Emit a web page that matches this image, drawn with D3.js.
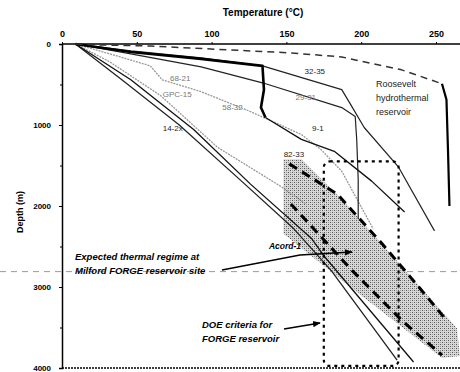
<!DOCTYPE html>
<html><head><meta charset="utf-8">
<script src="https://cdn.jsdelivr.net/npm/d3@7"></script>
<style>
html,body{margin:0;padding:0;background:#fff;}
svg{display:block;}
text{font-family:"Liberation Sans","DejaVu Sans",sans-serif;}
</style></head><body>
<svg id="c" width="460" height="372"></svg>
<script>
// ---- data (temperature °C, depth m) ----
const xTicks = [0, 50, 100, 150, 200, 250];
const yTicks = [0, 1000, 2000, 3000, 4000];
const yMinorTicks = [500, 1500, 2500, 3500];

const rooseveltDashed = [[9,0],[25,12],[59,25],[113,74],[153,110],[187,160],[227,319],[254,491]];
const rooseveltSolid  = [[254,491],[257,687],[258,1301],[259,2000]];
const well3235 = [[9,0],[46,86],[93,172],[134,270],[187,564],[193,748],[202,1031],[225,1521],[249,2307]];
const well2931 = [[9,0],[46,123],[93,282],[134,479],[187,785],[196,896],[197,1178],[198,1669],[198,2160]];
const wellThick = [[9,0],[46,98],[93,184],[134,270],[135,564],[133,785],[136,908]];
const well91 = [[136,908],[160,1178],[182,1325],[207,1693],[229,2074]];
const grayA = [[9,0],[39,160],[59,270],[67,442],[93,589],[126,834],[160,1117],[173,1301],[187,1571],[208,2282]];
const grayB = [[9,0],[32,221],[66,638],[104,1276],[146,1755],[163,1975]];
const wellH1 = [[9,0],[46,442],[88,1055],[126,1730],[167,2405],[175,2614],[235,3926]];
const wellH2 = [[9,0],[40,442],[78,994],[120,1693],[155,2282],[180,2798],[224,3902]];
const expectedHot = [[152,1480],[184,1853],[214,2466],[241,3055],[257,3411]];
const expectedCool = [[153,1975],[194,2798],[227,3411],[254,3840]];
const expectedBand = [[148,1423],[160,1423],[187,1914],[264,3509],[266,3853],[254,3877],[194,3018],[148,2344]];
const doeTemp = [175, 225];
const doeDepth = [1450, 3975];
const markerDepth = 2810;

const wellLabels = ["32-35","29-31","9-1","68-21","GPC-15","58-32","14-2x","82-33"];
const wellLabelAt = [[169,368],[163,687],[171,1080],[79,460],[77,650],[114,810],[74,1070],[155,1400]];

// ---- chart ----
const svg = d3.select("#c");
const x = d3.scaleLinear().domain([0,250]).range([62,436]);
const y = d3.scaleLinear().domain([0,4000]).range([44,368]);
const line = d3.line().x(d=>x(d[0])).y(d=>y(d[1]));

const defs = svg.append("defs");
const pat = defs.append("pattern").attr("id","hatch").attr("patternUnits","userSpaceOnUse").attr("width",4).attr("height",4);
pat.append("rect").attr("width",4).attr("height",4).attr("fill","#d8d8d8");
pat.append("rect").attr("x",0).attr("y",0).attr("width",1).attr("height",1).attr("fill","#555");
pat.append("rect").attr("x",2).attr("y",2).attr("width",1).attr("height",1).attr("fill","#555");
pat.append("rect").attr("x",2).attr("y",0).attr("width",1).attr("height",1).attr("fill","#999");
pat.append("rect").attr("x",0).attr("y",2).attr("width",1).attr("height",1).attr("fill","#999");
defs.append("marker").attr("id","arr").attr("viewBox","0 0 10 10").attr("refX",9).attr("refY",5)
  .attr("markerWidth",6).attr("markerHeight",6).attr("orient","auto")
  .append("path").attr("d","M0,1 L10,5 L0,9 z").attr("fill","#000");

svg.append("line").attr("x1",0).attr("x2",460).attr("y1",y(markerDepth)).attr("y2",y(markerDepth))
  .attr("stroke","#999").attr("stroke-width",1).attr("stroke-dasharray","6,5");

svg.append("path").attr("d", line(expectedBand)+"Z").attr("fill","url(#hatch)").attr("stroke","none");

const gTop = svg.append("g").attr("transform",`translate(0,${y(0)})`)
  .call(d3.axisTop(x).tickValues(xTicks).tickSize(2).tickPadding(5));
gTop.select(".domain").remove();
gTop.selectAll("text").attr("font-size",9).attr("font-weight","bold");
svg.append("line").attr("x1",x(0)).attr("x2",460).attr("y1",y(0)).attr("y2",y(0)).attr("stroke","#000").attr("stroke-width",1.5);

const gLeft = svg.append("g").attr("transform",`translate(${x(0)},0)`)
  .call(d3.axisLeft(y).tickValues(yTicks).tickFormat(d3.format("d")).tickSize(3).tickPadding(8));
gLeft.select(".domain").attr("stroke-width",1.5);
gLeft.selectAll("text").attr("font-size",8).attr("font-weight","bold");
svg.append("g").attr("transform",`translate(${x(0)},0)`)
  .call(d3.axisLeft(y).tickValues(yMinorTicks).tickSize(2).tickFormat(""))
  .select(".domain").remove();
svg.append("line").attr("x1",x(0)).attr("x2",460).attr("y1",y(4000)).attr("y2",y(4000))
  .attr("stroke","#000").attr("stroke-width",1.5).attr("stroke-dasharray","2,1");

svg.append("text").attr("x",263).attr("y",16).attr("text-anchor","middle")
  .attr("font-size",10).attr("font-weight","bold").text("Temperature (°C)");
svg.append("text").attr("transform",`translate(23,212) rotate(-90)`).attr("text-anchor","middle")
  .attr("font-size",9).attr("font-weight","bold").text("Depth (m)");

function draw(data, opts){
  svg.append("path").attr("d",line(data)).attr("fill","none")
    .attr("stroke",opts.c||"#000").attr("stroke-width",opts.w||1.2)
    .attr("stroke-dasharray",opts.d||null).attr("stroke-linejoin","round");
}
draw(grayA,{c:"#999",w:1.3,d:"2,1"});
draw(grayB,{c:"#999",w:1.3,d:"2,1"});
draw(wellH2,{c:"#222",w:1.3});
draw(wellH1,{c:"#111",w:1.3});
draw(well2931,{c:"#222",w:1.2});
draw(well3235,{c:"#222",w:1.2});
draw(well91,{c:"#111",w:1.3});
draw(wellThick,{c:"#000",w:2.6});
draw(rooseveltDashed,{c:"#333",w:1.5,d:"7,5"});
draw(rooseveltSolid,{c:"#000",w:2.2});
draw(expectedHot,{c:"#000",w:3,d:"9,6"});
draw(expectedCool,{c:"#000",w:3,d:"9,6"});

svg.append("rect").attr("x",x(doeTemp[0])).attr("y",y(doeDepth[0]))
  .attr("width",x(doeTemp[1])-x(doeTemp[0])).attr("height",y(doeDepth[1])-y(doeDepth[0]))
  .attr("rx",6).attr("fill","none").attr("stroke","#000").attr("stroke-width",2.2).attr("stroke-dasharray","3,4");

wellLabels.forEach((t,i)=>{
  svg.append("text").attr("x",x(wellLabelAt[i][0])).attr("y",y(wellLabelAt[i][1]))
    .attr("font-size",8).attr("fill", (i===1||i===3||i===5||i===4)?"#777":"#222")
    .attr("font-family","Liberation Serif, serif").attr("text-anchor","middle").text(t);
});
svg.append("text").attr("x",285).attr("y",249).attr("text-anchor","middle").attr("font-size",8.5)
  .attr("font-style","italic").attr("font-weight","bold").attr("font-family","Liberation Serif, serif").text("Acord-1");

["Roosevelt","hydrothermal","reservoir"].forEach((t,i)=>{
  svg.append("text").attr("x",376).attr("y",87+i*14).attr("font-size",9).attr("fill","#222").text(t);
});

[["Expected thermal regime at",260],["Milford FORGE reservoir site",274]].forEach(a=>{
  svg.append("text").attr("x",75).attr("y",a[1]).attr("font-size",9.5).attr("font-style","italic")
    .attr("font-weight","bold").text(a[0]);
});
svg.append("path").attr("d","M222,270 L300,255 L352,252").attr("fill","none").attr("stroke","#000")
  .attr("stroke-width",1.3).attr("marker-end","url(#arr)");
[["DOE criteria for",328],["FORGE reservoir",342]].forEach(a=>{
  svg.append("text").attr("x",202).attr("y",a[1]).attr("font-size",9.5).attr("font-style","italic")
    .attr("font-weight","bold").text(a[0]);
});
svg.append("path").attr("d","M284,329 L320,323").attr("fill","none").attr("stroke","#000")
  .attr("stroke-width",1.3).attr("marker-end","url(#arr)");
</script></body></html>
